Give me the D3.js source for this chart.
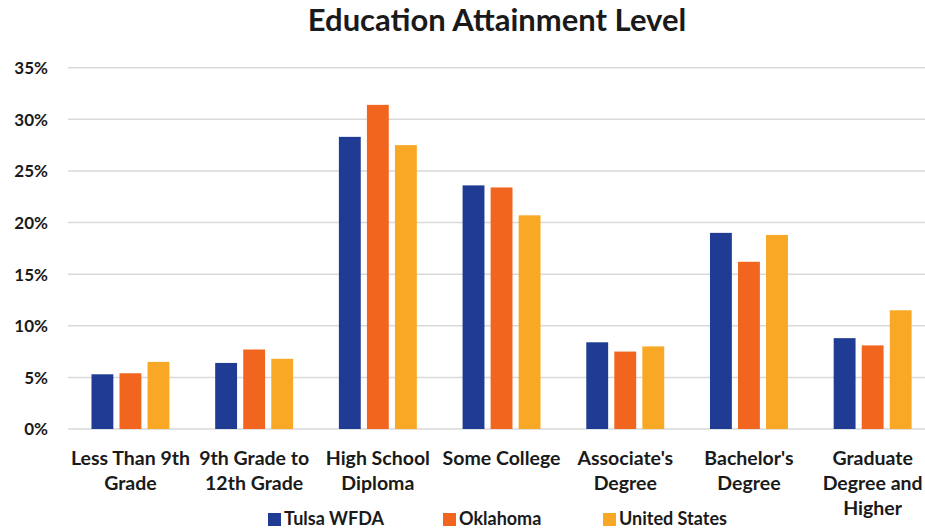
<!DOCTYPE html>
<html>
<head>
<meta charset="utf-8">
<script src="https://cdn.jsdelivr.net/npm/d3@7"></script>
<style>
  html, body { margin: 0; padding: 0; background: #fff; }
  svg { display: block; }
  text { font-family: Lato, "Open Sans", sans-serif; font-weight: 700; fill: #1a1a1a; }
</style>
</head>
<body>
<svg id="chart" width="925" height="531"></svg>
<script>
const categories = [
  "Less Than 9th\nGrade",
  "9th Grade to\n12th Grade",
  "High School\nDiploma",
  "Some College",
  "Associate's\nDegree",
  "Bachelor's\nDegree",
  "Graduate\nDegree and\nHigher"
];
const seriesNames = ["Tulsa WFDA", "Oklahoma", "United States"];
const tulsa    = [5.3, 6.4, 28.3, 23.6, 8.4, 19.0, 8.8];
const oklahoma = [5.4, 7.7, 31.4, 23.4, 7.5, 16.2, 8.1];
const usa      = [6.5, 6.8, 27.5, 20.7, 8.0, 18.8, 11.5];
const yTicks = [0, 5, 10, 15, 20, 25, 30, 35];
const colors = ["#1f3b93", "#f1651f", "#f9a825"];

const svg = d3.select("#chart");
const seriesValues = [tulsa, oklahoma, usa];

const x0 = d3.scaleBand().domain(categories).range([68.6, 934.5]).paddingInner(0.37).paddingOuter(0.185);
const x1 = d3.scaleBand().domain(seriesNames).range([0, x0.bandwidth()]).paddingInner(0.22);
const y = d3.scaleLinear().domain([0, 35]).range([429, 67.7]);

// gridlines
svg.append("g")
  .selectAll("line").data(yTicks).join("line")
  .attr("x1", 68).attr("x2", 925)
  .attr("y1", d => y(d)).attr("y2", d => y(d))
  .attr("stroke", "#d9d9d9").attr("stroke-width", 1.5);

// y axis labels
const yAxis = d3.axisLeft(y).tickValues(yTicks).tickFormat(d => d + "%").tickSize(0).tickPadding(0);
const gy = svg.append("g").attr("transform", "translate(48,0)").call(yAxis);
gy.select(".domain").remove();
gy.selectAll("text").attr("font-size", 17).attr("font-family", "Lato, sans-serif").attr("font-weight", 700).attr("fill", "#1a1a1a").attr("dy", "0.35em");

// bars
const groups = svg.append("g").selectAll("g").data(categories).join("g")
  .attr("transform", d => `translate(${x0(d)},0)`);
groups.selectAll("rect")
  .data((c, i) => seriesNames.map((s, j) => ({ s, v: seriesValues[j][i], j })))
  .join("rect")
  .attr("x", d => x1(d.s))
  .attr("width", x1.bandwidth())
  .attr("y", d => y(d.v))
  .attr("height", d => y(0) - y(d.v))
  .attr("fill", d => colors[d.j]);

// x labels
const xl = svg.append("g").selectAll("text").data(categories).join("text")
  .attr("text-anchor", "middle")
  .attr("font-size", 19.5)
  .attr("x", d => x0(d) + x0.bandwidth() / 2);
xl.selectAll("tspan").data(d => d.split("\n")).join("tspan")
  .attr("x", function() { return d3.select(this.parentNode).attr("x"); })
  .attr("y", (d, i) => 465 + i * 25)
  .text(d => d);

// title
svg.append("text").attr("x", 497).attr("y", 31).attr("text-anchor", "middle")
  .attr("font-size", 31).text("Education Attainment Level");

// legend
const legendX = [268, 443, 603];
const lg = svg.append("g").selectAll("g").data(seriesNames).join("g")
  .attr("transform", (d, i) => `translate(${legendX[i]},519)`);
lg.append("rect").attr("x", 0).attr("y", -6).attr("width", 13).attr("height", 13).attr("fill", (d, i) => colors[i]);
lg.append("text").attr("x", 16).attr("y", 6).attr("font-size", 18).text(d => d);
</script>
</body>
</html>
